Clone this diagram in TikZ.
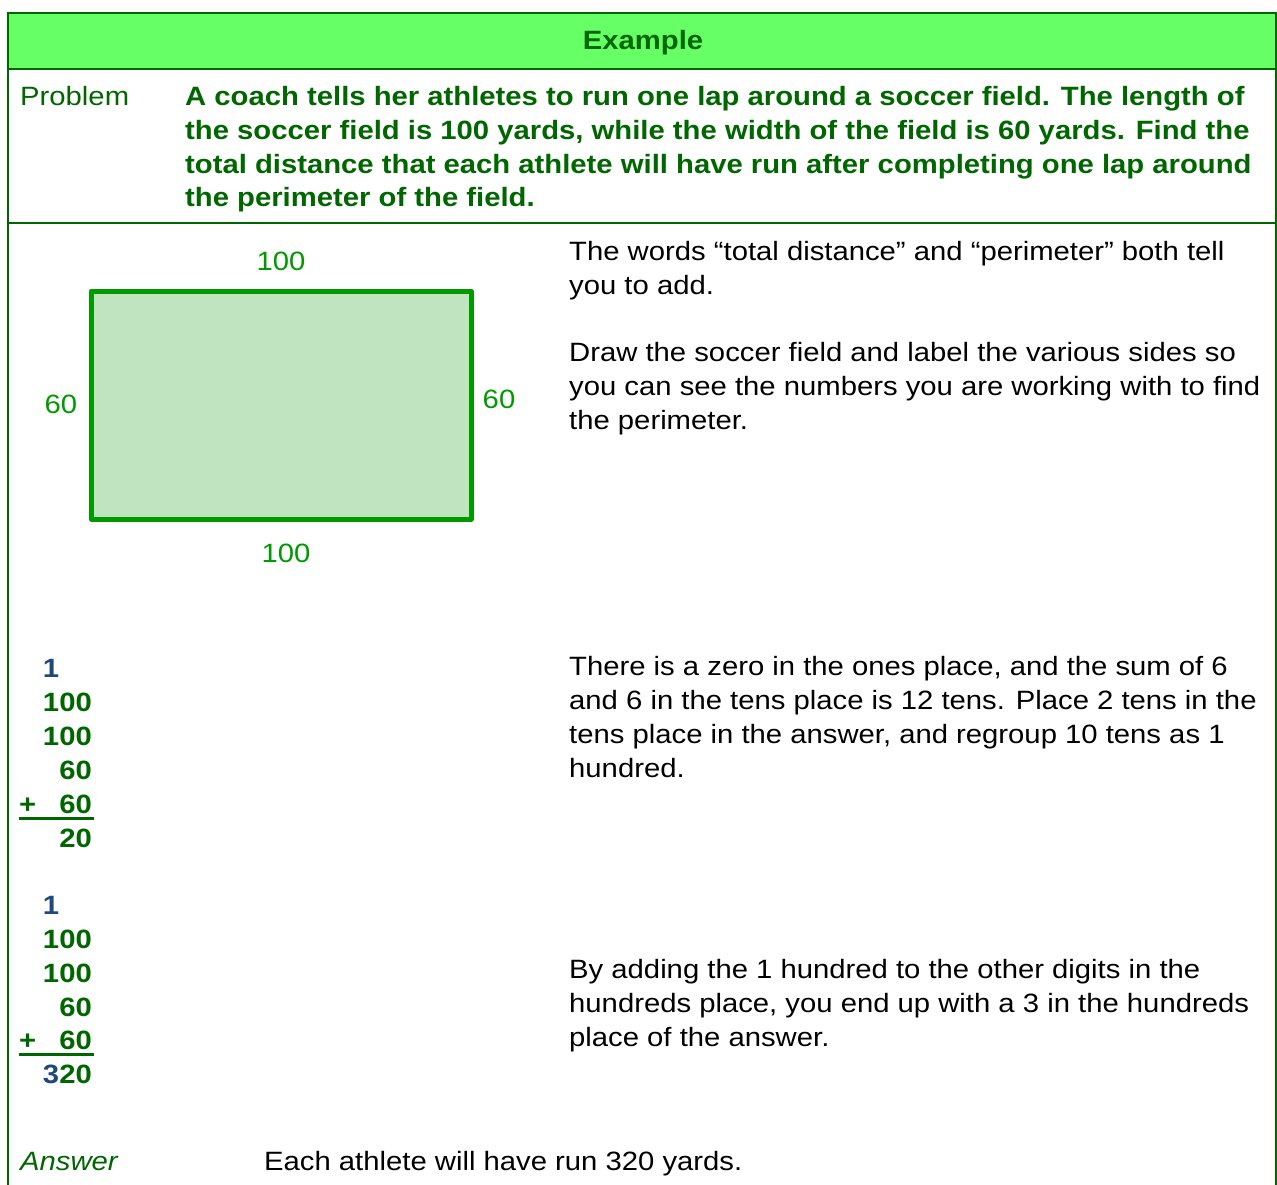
\documentclass[tikz,border=0pt]{standalone}
\usepackage{fontspec}
\setmainfont{Liberation Sans}[FakeStretch=1.104]
\definecolor{dkgreen}{HTML}{006600}
\definecolor{hdrgreen}{HTML}{66FF66}
\definecolor{fieldgreen}{HTML}{009900}
\definecolor{fieldfill}{HTML}{C0E4C0}
\definecolor{carryblue}{HTML}{1F497D}
\begin{document}
\begin{tikzpicture}[x=1pt,y=-1pt,
  txt/.style={inner sep=0pt,anchor=base west,font=\fontsize{26.5}{34}\selectfont},
  bodytxt/.style={txt,text=black},
  probtxt/.style={txt,text=dkgreen,font=\fontsize{26.5}{34}\selectfont\bfseries},
  lbl/.style={inner sep=0pt,anchor=base,text=fieldgreen,font=\fontsize{26.5}{34}\selectfont},
  num/.style={inner sep=0pt,anchor=base east,text=dkgreen,font=\fontsize{26.5}{34}\selectfont\bfseries},
  frameline/.style={draw=dkgreen,line width=2pt}]
\useasboundingbox (0,0) rectangle (1277,1184);
% header
\fill[hdrgreen] (8,13) rectangle (1276,69);
\draw[frameline] (8,1190) -- (8,13) -- (1276,13) -- (1276,1190);
\draw[frameline] (8,69) -- (1276,69);
\draw[frameline] (8,223) -- (1276,223);
\node[inner sep=0pt,anchor=base,text=dkgreen,font=\fontsize{26.5}{34}\selectfont\bfseries] (title) at (643,49) {Example};
% problem
\node[txt,text=dkgreen] (prob) at (20,105) {Problem};
\node[probtxt] (p1) at (185,105) {A coach tells her athletes to run one lap around a soccer field. The length of};
\node[probtxt] (p2) at (185,139) {the soccer field is 100 yards, while the width of the field is 60 yards. Find the};
\node[probtxt] (p3) at (185,173) {total distance that each athlete will have run after completing one lap around};
\node[probtxt] (p4) at (185,206) {the perimeter of the field.};
% field
\draw[draw=fieldgreen,fill=fieldfill,line width=5pt,line join=round] (91,291) rectangle (471,519);
\node[lbl] (top) at (281,270) {100};
\node[lbl] (bot) at (286,562) {100};
\node[lbl] (lft) at (61,413) {60};
\node[lbl] (rgt) at (499,408) {60};
% right texts
\node[bodytxt] (a1) at (569,260) {The words “total distance” and “perimeter” both tell};
\node[bodytxt] (a2) at (569,294) {you to add.};
\node[bodytxt] (b1) at (569,361) {Draw the soccer field and label the various sides so};
\node[bodytxt] (b2) at (569,395) {you can see the numbers you are working with to find};
\node[bodytxt] (b3) at (569,429) {the perimeter.};
\node[bodytxt] (c1) at (569,675) {There is a zero in the ones place, and the sum of 6};
\node[bodytxt] (c2) at (569,709) {and 6 in the tens place is 12 tens. Place 2 tens in the};
\node[bodytxt] (c3) at (569,743) {tens place in the answer, and regroup 10 tens as 1};
\node[bodytxt] (c4) at (569,777) {hundred.};
\node[bodytxt] (d1) at (569,978) {By adding the 1 hundred to the other digits in the};
\node[bodytxt] (d2) at (569,1012) {hundreds place, you end up with a 3 in the hundreds};
\node[bodytxt] (d3) at (569,1046) {place of the answer.};
% first addition
\node[num] (ca) at (92,677) {\textcolor{carryblue}{1}\phantom{00}};
\node[num] (r1a) at (92,711) {100};
\node[num] (r2a) at (92,745) {100};
\node[num] (r3a) at (92,779) {60};
\node[num] (r4a) at (92,813) {60};
\node[num,anchor=base west] (pa) at (19,813) {+};
\draw[dkgreen,line width=3pt] (19,818) -- (94,818);
\node[num] (sa) at (92,847) {20};
% second addition
\node[num] (cb) at (92,914) {\textcolor{carryblue}{1}\phantom{00}};
\node[num] (r1b) at (92,948) {100};
\node[num] (r2b) at (92,982) {100};
\node[num] (r3b) at (92,1016) {60};
\node[num] (r4b) at (92,1049) {60};
\node[num,anchor=base west] (pb) at (19,1049) {+};
\draw[dkgreen,line width=3pt] (19,1054) -- (94,1054);
\node[num] (sb) at (92,1083) {\textcolor{carryblue}{3}20};
% answer
\node[txt,text=dkgreen,font=\fontsize{26.5}{34}\selectfont\itshape] (ans) at (20,1170) {Answer};
\node[bodytxt] (anst) at (264,1170) {Each athlete will have run 320 yards.};
\end{tikzpicture}
\end{document}
